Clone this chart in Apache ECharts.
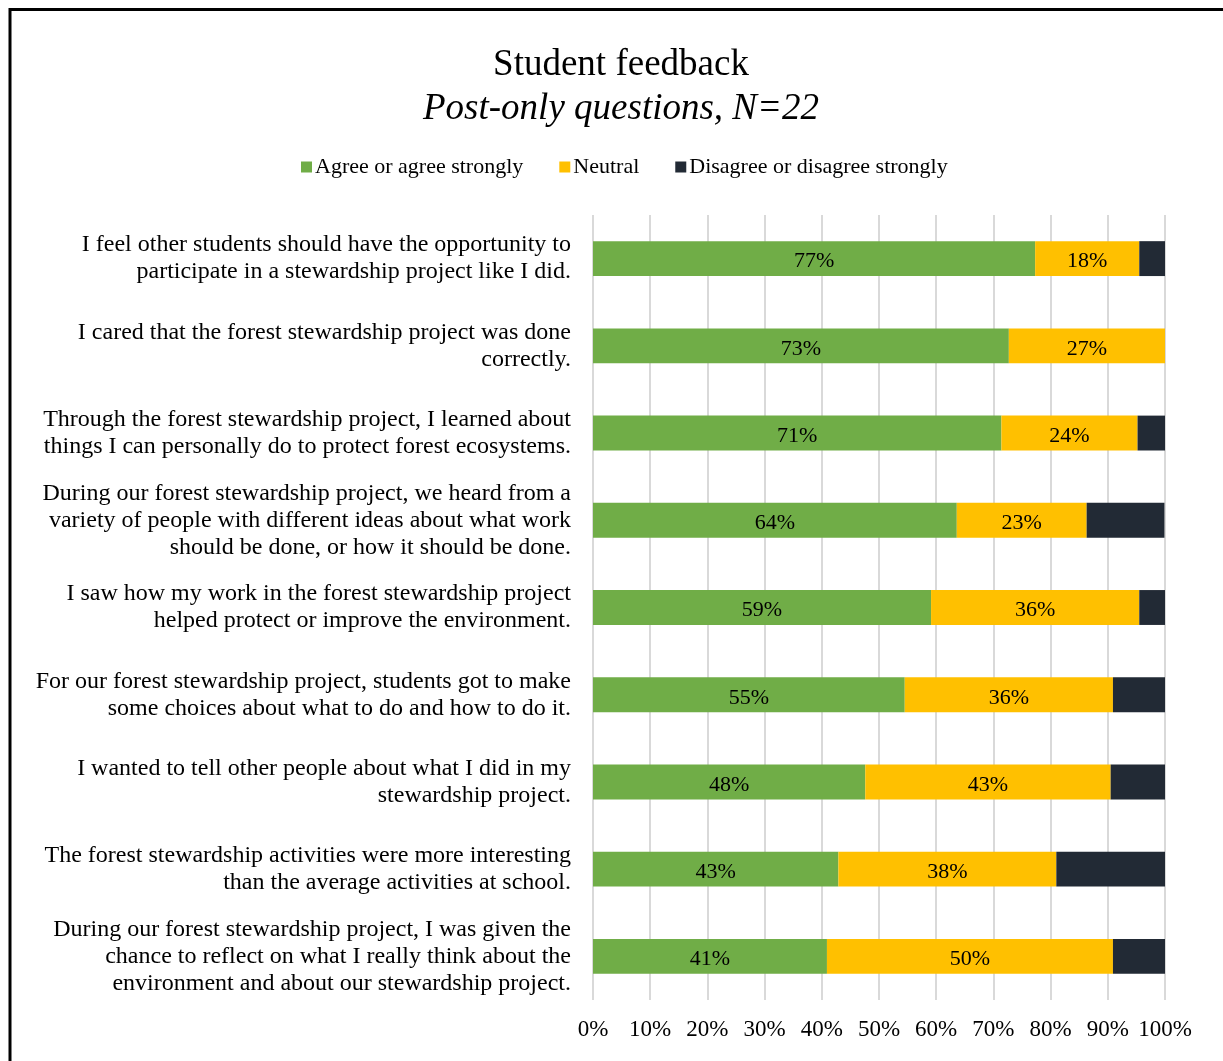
<!DOCTYPE html>
<html>
<head>
<meta charset="utf-8">
<style>
  html, body { margin: 0; padding: 0; background: #fff; }
  #chart { width: 1223px; height: 1061px; }
</style>
<script src="https://cdn.jsdelivr.net/npm/echarts@6/dist/echarts.min.js"></script>
</head>
<body>
<div id="chart"></div>
<script>
// Survey statements (top to bottom)
const categories = [
  'I feel other students should have the opportunity to\nparticipate in a stewardship project like I did.',
  'I cared that the forest stewardship project was done\ncorrectly.',
  'Through the forest stewardship project, I learned about\nthings I can personally do to protect forest ecosystems.',
  'During our forest stewardship project, we heard from a\nvariety of people with different ideas about what work\nshould be done, or how it should be done.',
  'I saw how my work in the forest stewardship project\nhelped protect or improve the environment.',
  'For our forest stewardship project, students got to make\nsome choices about what to do and how to do it.',
  'I wanted to tell other people about what I did in my\nstewardship project.',
  'The forest stewardship activities were more interesting\nthan the average activities at school.',
  'During our forest stewardship project, I was given the\nchance to reflect on what I really think about the\nenvironment and about our stewardship project.'
];

// Response shares in percent
const agree    = [77.3, 72.7, 71.4, 63.6, 59.1, 54.5, 47.6, 42.9, 40.9];
const neutral  = [18.2, 27.3, 23.8, 22.7, 36.4, 36.4, 42.9, 38.1, 50.0];
const disagree = [4.5, 0, 4.8, 13.6, 4.5, 9.1, 9.5, 19.0, 9.1];

const seriesNames = ['Agree or agree strongly', 'Neutral', 'Disagree or disagree strongly'];
const seriesColors = ['#70AD47', '#FFC000', '#222A35'];

const FONT = '"Liberation Serif", "Times New Roman", serif';

const chart = echarts.init(document.getElementById('chart'));

const labelStyle = {
  show: true,
  position: 'inside',
  offset: [0, 3],
  fontFamily: FONT,
  fontSize: 22,
  color: '#000',
  formatter: p => Math.round(p.value) + '%'
};

chart.setOption({
  animation: false,
  backgroundColor: '#fff',
  title: {
    text: 'Student feedback',
    subtext: 'Post-only questions, N=22',
    left: 616,
    top: 42,
    textAlign: 'center',
    itemGap: 7,
    textStyle: { fontFamily: FONT, fontSize: 37, fontWeight: 'normal', color: '#000' },
    subtextStyle: { fontFamily: FONT, fontSize: 37, fontStyle: 'italic', color: '#000' }
  },
  legend: {
    top: 151,
    left: 296,
    itemWidth: 11,
    itemHeight: 11,
    itemGap: 36,
    icon: 'rect',
    textStyle: { fontFamily: FONT, fontSize: 22, color: '#000', padding: [0, 0, 0, -2] },
    data: seriesNames
  },
  grid: { left: 593, right: 58, top: 215, bottom: 61, containLabel: false },
  xAxis: {
    type: 'value',
    min: 0,
    max: 100,
    interval: 10,
    axisLine: { show: false },
    axisTick: { show: false },
    splitLine: { show: true, lineStyle: { color: '#D9D9D9', width: 2 } },
    axisLabel: {
      formatter: '{value}%',
      fontFamily: FONT,
      fontSize: 23,
      color: '#000',
      margin: 18
    }
  },
  yAxis: {
    type: 'category',
    inverse: true,
    data: categories,
    axisLine: { show: false },
    axisTick: { show: false },
    axisLabel: {
      fontFamily: FONT,
      fontSize: 24,
      lineHeight: 27,
      color: '#000',
      align: 'right',
      margin: 22,
      padding: [6, 0, 0, 0]
    }
  },
  series: [
    { name: seriesNames[0], type: 'bar', stack: 'total', data: agree, barWidth: '40%',
      itemStyle: { color: seriesColors[0] }, label: labelStyle },
    { name: seriesNames[1], type: 'bar', stack: 'total', data: neutral,
      itemStyle: { color: seriesColors[1] }, label: labelStyle },
    { name: seriesNames[2], type: 'bar', stack: 'total', data: disagree,
      itemStyle: { color: seriesColors[2] }, label: { show: false } }
  ],
  graphic: [
    {
      type: 'polyline',
      shape: { points: [[10, 1061], [10, 9.5], [1223, 9.5]] },
      style: { stroke: '#000', lineWidth: 3, fill: null }
    }
  ]
});
</script>
</body>
</html>
